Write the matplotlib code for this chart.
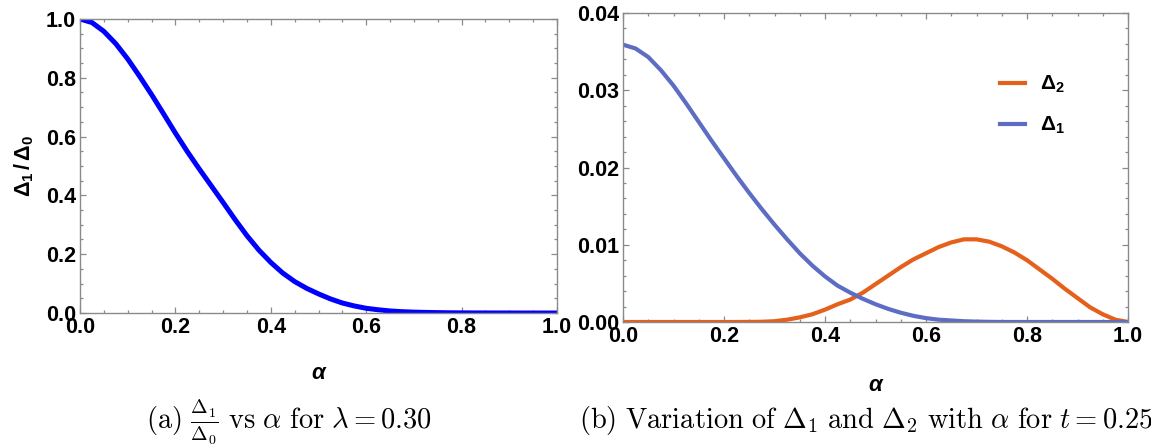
import matplotlib
matplotlib.use("Agg")
import matplotlib.pyplot as plt
from matplotlib.ticker import MultipleLocator

plt.rcParams['mathtext.fontset'] = 'custom'
plt.rcParams['mathtext.rm'] = 'Liberation Sans'
plt.rcParams['mathtext.bf'] = 'Liberation Sans:bold'
plt.rcParams['mathtext.it'] = 'Liberation Sans:italic'

# ---------------- data ----------------
alpha = [0.000, 0.025, 0.050, 0.075, 0.100, 0.125, 0.150, 0.175, 0.200, 0.225,
         0.250, 0.275, 0.300, 0.325, 0.350, 0.375, 0.400, 0.425, 0.450, 0.475,
         0.500, 0.525, 0.550, 0.575, 0.600, 0.625, 0.650, 0.675, 0.700, 0.725,
         0.750, 0.775, 0.800, 0.825, 0.850, 0.875, 0.900, 0.925, 0.950, 0.975,
         1.000]

ratio_d1_d0 = [1.000, 0.988, 0.958, 0.916, 0.864, 0.805, 0.743, 0.678, 0.612, 0.549,
               0.490, 0.433, 0.376, 0.318, 0.263, 0.214, 0.172, 0.136, 0.107, 0.084,
               0.065, 0.048, 0.034, 0.024, 0.016, 0.011, 0.007, 0.0045, 0.003, 0.002,
               0.0013, 0.0008, 0.0005, 0.0003, 0.0002, 0.0001, 0.0001, 0.0, 0.0, 0.0,
               0.0]

delta1 = [0.0359, 0.0354, 0.0343, 0.0326, 0.0306, 0.0283, 0.0259, 0.0235, 0.0212, 0.0189,
          0.0167, 0.0146, 0.0126, 0.0107, 0.0089, 0.0073, 0.0059, 0.0047, 0.0038, 0.0030,
          0.0023, 0.0017, 0.0012, 0.0008, 0.0005, 0.0003, 0.0002, 0.0001, 0.00005, 0.00002,
          0.0, 0.0, 0.0, 0.0, 0.0, 0.0, 0.0, 0.0, 0.0, 0.0,
          0.0]

delta2 = [0.0, 0.0, 0.0, 0.0, 0.0, 0.0, 0.0, 0.0, 0.0, 0.0,
          0.00001, 0.00003, 0.0001, 0.0003, 0.0006, 0.0010, 0.0016, 0.0023, 0.0029, 0.0038,
          0.0049, 0.0060, 0.0071, 0.0081, 0.0089, 0.0097, 0.0103, 0.0107, 0.0107, 0.0104,
          0.0098, 0.0090, 0.0080, 0.0068, 0.0056, 0.0043, 0.0031, 0.0019, 0.0010, 0.0003,
          0.0]

left_yticks = [0.0, 0.2, 0.4, 0.6, 0.8, 1.0]
right_yticks = [0.00, 0.01, 0.02, 0.03, 0.04]
xticks = [0.0, 0.2, 0.4, 0.6, 0.8, 1.0]

# ---------------- figure ----------------
W, H = 1151, 444
fig = plt.figure(figsize=(W / 100, H / 100), dpi=100)

def px_axes(x0, y0, x1, y1):
    return fig.add_axes([x0 / W, (H - y1) / H, (x1 - x0) / W, (y1 - y0) / H])

frame_col = '#8a8a8a'

def style(ax, ymin_step):
    for s in ax.spines.values():
        s.set_color(frame_col)
        s.set_linewidth(1.0)
    ax.tick_params(which='both', direction='in', top=True, right=True,
                   color=frame_col, width=0.9)
    ax.tick_params(which='major', length=4.0, pad=3)
    ax.tick_params(which='minor', length=2.2)
    ax.xaxis.set_minor_locator(MultipleLocator(0.05))
    ax.yaxis.set_minor_locator(MultipleLocator(ymin_step))
    for lab in ax.get_xticklabels() + ax.get_yticklabels():
        lab.set_fontfamily('Liberation Sans')
        lab.set_fontweight('bold')
        lab.set_fontsize(15.5)

# Left panel
axL = px_axes(80, 19, 557, 313)
axL.plot(alpha, ratio_d1_d0, color='#0000ff', lw=3.6, solid_joinstyle='round')
axL.set_xlim(0, 1)
axL.set_ylim(0, 1)
axL.set_xticks(xticks)
axL.set_xticklabels([f"{v:.1f}" for v in xticks])
axL.set_yticks(left_yticks)
axL.set_yticklabels([f"{v:.1f}" for v in left_yticks])
style(axL, 0.05)
axL.set_xlabel('α', fontfamily='Liberation Sans', fontweight='bold',
               fontstyle='italic', fontsize=16, labelpad=18)
fig.text(24 / W, (H - 166) / H, r'$\mathbf{\Delta_1\,/\,\Delta_0}$',
         rotation=90, ha='center', va='center', fontsize=15.5)

# Right panel
axR = px_axes(623, 13, 1128, 322)
axR.plot(alpha, delta2, color='#e5601a', lw=3.0, label=r'$\mathbf{\Delta_2}$',
         solid_joinstyle='round')
axR.plot(alpha, delta1, color='#5d6dc4', lw=3.0, label=r'$\mathbf{\Delta_1}$',
         solid_joinstyle='round')
axR.set_xlim(0, 1)
axR.set_ylim(0, 0.04)
axR.set_xticks(xticks)
axR.set_xticklabels([f"{v:.1f}" for v in xticks])
axR.set_yticks(right_yticks)
axR.set_yticklabels([f"{v:.2f}" for v in right_yticks])
style(axR, 0.002)
axR.set_xlabel('α', fontfamily='Liberation Sans', fontweight='bold',
               fontstyle='italic', fontsize=16, labelpad=20)
leg = axR.legend(loc='upper left', bbox_to_anchor=((1000 - 623) / 505, 1 - (74 - 13) / 309),
                 frameon=False, fontsize=15, handlelength=1.2, handletextpad=0.7,
                 labelspacing=0.95, borderpad=0, borderaxespad=0)

# Captions
fig.text(289 / W, 16 / H,
         r'$\mathrm{(a)}\ \frac{\Delta_1}{\Delta_0}\ \mathrm{vs}\ \alpha\ \mathrm{for}\ \lambda = 0.30$',
         ha='center', va='baseline', fontsize=20.5, math_fontfamily='cm')
fig.text(866 / W, 16 / H,
         r'$\mathrm{(b)\ Variation\ of}\ \Delta_1\ \mathrm{and}\ \Delta_2\ \mathrm{with}\ \alpha\ \mathrm{for}\ t = 0.25$',
         ha='center', va='baseline', fontsize=20.5, math_fontfamily='cm')

fig.savefig('out.png', dpi=100)
